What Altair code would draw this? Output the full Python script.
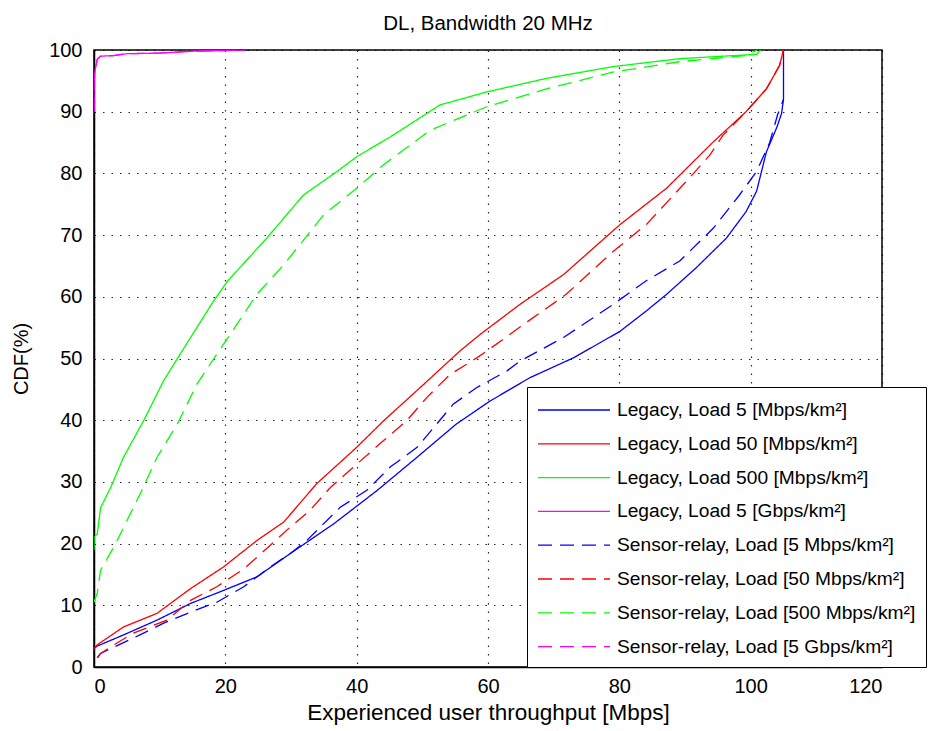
import altair as alt
import pandas as pd

# ---- data ----
labels = [
    "Legacy, Load 5 [Mbps/km²]",
    "Legacy, Load 50 [Mbps/km²]",
    "Legacy, Load 500 [Mbps/km²]",
    "Legacy, Load 5 [Gbps/km²]",
    "Sensor-relay, Load [5 Mbps/km²]",
    "Sensor-relay, Load [50 Mbps/km²]",
    "Sensor-relay, Load [500 Mbps/km²]",
    "Sensor-relay, Load [5 Gbps/km²]",
]
colors = ["#0000FF", "#FF0000", "#00FF00", "#FF00FF",
          "#0000FF", "#FF0000", "#00FF00", "#FF00FF"]
dashes = [[1, 0], [1, 0], [1, 0], [1, 0],
          [14, 8], [14, 8], [14, 8], [14, 8]]

leg5_x = [0, 0.5, 4.5, 9.6, 14.7, 19.7, 24.8, 29.9, 36.5, 43.1, 49.2, 55.2, 60.3, 66.4,
          73.0, 80.1, 84.1, 87.2, 91.7, 96.3, 99.3, 100.9, 102.4, 104.0, 104.7, 105.0, 105.0]
leg5_y = [3.0, 3.4, 5.2, 7.6, 10.3, 12.4, 14.6, 18.4, 23.2, 28.6, 34.0, 39.4, 43.1, 46.9,
          50.1, 54.4, 57.7, 60.4, 64.7, 69.5, 73.8, 77.1, 83.5, 87.5, 89.7, 92.0, 100.0]

leg50_x = [0, 0.5, 4.5, 9.6, 14.7, 19.7, 24.8, 28.9, 33.9, 40.0, 44.1, 50.2, 55.7, 58.8,
           64.9, 71.5, 80.1, 87.2, 94.3, 99.3, 102.4, 104.4, 105.0]
leg50_y = [3.0, 3.6, 6.5, 8.7, 12.7, 16.2, 20.5, 23.5, 29.7, 35.6, 39.9, 45.8, 51.2, 53.9,
           58.8, 63.6, 71.7, 77.6, 85.1, 90.0, 93.7, 97.5, 100.0]

leg500_x = [0, 0, 0.5, 1.0, 2.5, 4.5, 7.6, 10.6, 13.7, 18.2, 20.3, 26.3, 31.9, 37.0, 40.0,
            45.1, 52.7, 59.8, 68.9, 79.0, 89.2, 100.9, 101.5]
leg500_y = [19.0, 21.0, 21.6, 25.8, 29.0, 34.0, 40.0, 46.4, 51.7, 59.3, 62.5, 69.5, 76.5, 80.3, 82.7,
            85.9, 91.1, 93.2, 95.4, 97.3, 98.6, 99.3, 100.0]

leg5g_x = [0, 0, 0.2, 0.5, 1.0, 3.0, 5.0, 10.0, 15.0, 23.0]
leg5g_y = [90.0, 95.0, 97.0, 98.5, 99.0, 99.1, 99.4, 99.5, 99.8, 100.0]

sr5_x = [0.5, 1.0, 7.0, 10.6, 14.7, 18.7, 22.8, 26.8, 29.9, 32.4, 37.5, 41.5, 45.1, 49.2, 52.2,
         54.7, 58.3, 62.9, 64.9, 71.5, 79.1, 84.1, 89.2, 94.3, 98.3, 100.9, 102.9, 104.1, 105.0]
sr5_y = [1.5, 2.2, 5.2, 7.1, 8.9, 10.5, 13.0, 16.2, 18.4, 20.5, 25.9, 28.6, 32.4, 35.6, 39.4,
         42.6, 45.3, 48.0, 49.6, 53.4, 58.8, 62.6, 65.8, 71.1, 76.5, 80.3, 85.0, 89.5, 92.0]

sr50_x = [0.5, 1.0, 3.5, 6.0, 11.1, 14.7, 18.7, 22.8, 26.3, 29.9, 32.9, 36.0, 39.5, 44.1, 47.6,
          50.7, 54.2, 58.3, 59.8, 65.4, 71.9, 79.1, 84.1, 90.2, 93.8, 95.8, 99.3, 102.4, 104.4, 105.0]
sr50_y = [1.5, 2.2, 3.9, 5.5, 7.6, 10.8, 13.0, 15.9, 19.2, 22.7, 25.4, 29.1, 32.4, 36.7, 39.9,
          43.7, 47.4, 50.1, 51.2, 55.5, 60.4, 67.4, 71.7, 78.7, 83.0, 86.2, 90.0, 93.7, 97.5, 100.0]

sr500_x = [0, 0.5, 1.0, 3.3, 5.0, 7.0, 9.6, 12.7, 15.7, 18.7, 20.8, 24.8, 28.9, 35.0, 40.0, 44.1,
           51.2, 59.8, 68.9, 79.0, 89.2, 99.3, 101.0]
sr500_y = [10.5, 12.0, 15.7, 20.0, 23.7, 28.0, 34.0, 39.4, 45.9, 50.7, 54.0, 60.4, 65.2, 73.3,
           77.6, 81.4, 87.0, 90.8, 93.7, 96.4, 98.1, 99.1, 100.0]

sr5g_x = [0, 0, 0.2, 0.5, 1.0, 3.0, 5.0, 10.0, 15.0, 23.0]
sr5g_y = [90.0, 95.0, 97.0, 98.5, 99.0, 99.1, 99.4, 99.5, 99.8, 100.0]

xs = [leg5_x, leg50_x, leg500_x, leg5g_x, sr5_x, sr50_x, sr500_x, sr5g_x]
ys = [leg5_y, leg50_y, leg500_y, leg5g_y, sr5_y, sr50_y, sr500_y, sr5g_y]

x_ticks = [0, 20, 40, 60, 80, 100, 120]
y_ticks = [0, 10, 20, 30, 40, 50, 60, 70, 80, 90, 100]

rows = []
for k, (lab, xv, yv) in enumerate(zip(labels, xs, ys)):
    for i, (a, b) in enumerate(zip(xv, yv)):
        rows.append({"series": lab, "x": a, "y": b, "i": i, "k": k})
df = pd.DataFrame(rows)

FONT = "Liberation Sans"

leg = alt.Legend(title=None, orient="none", legendX=433, legendY=337, direction="vertical")

chart = alt.Chart(df).mark_line(strokeWidth=1.3, clip=True).encode(
    x=alt.X("x:Q", scale=alt.Scale(domain=[0, 120], nice=False),
            axis=alt.Axis(values=x_ticks, title="Experienced user throughput [Mbps]",
                          grid=True, format="d", titleFontSize=22.5, labelPadding=9)),
    y=alt.Y("y:Q", scale=alt.Scale(domain=[0, 100], nice=False),
            axis=alt.Axis(values=y_ticks, title="CDF(%)", grid=True, format="d",
                          titleFontSize=20, labelPadding=12)),
    color=alt.Color("series:N", scale=alt.Scale(domain=labels, range=colors), legend=leg),
    strokeDash=alt.StrokeDash("series:N", scale=alt.Scale(domain=labels, range=dashes), legend=leg),
    order="i:Q",
    detail="k:N",
).properties(
    width=788, height=617,
    title=alt.Title("DL, Bandwidth 20 MHz", font=FONT, fontSize=20.5, fontWeight="normal",
                    color="#000", offset=6),
    padding={"left": 94, "top": 50, "right": 46, "bottom": 64},
    autosize=alt.AutoSizeParams(type="none"),
).configure_view(
    stroke="#000", strokeWidth=1.5
).configure_axis(
    labelFont=FONT, titleFont=FONT, labelFontSize=20,
    labelColor="#000", titleColor="#000", titleFontWeight="normal",
    domainColor="#000", domainWidth=1.5, tickColor="#000", tickSize=0,
    gridColor="#000", gridDash=[1.5, 7], gridWidth=1.2, gridOpacity=0.85,
).configure_axisX(
    titlePadding=5
).configure_axisY(
    titlePadding=17
).configure_legend(
    labelFont=FONT, labelFontSize=19.2, labelColor="#000", labelLimit=500,
    strokeColor="#000", fillColor="#fff", padding=10,
    symbolType="M-5,0H1", symbolSize=576, symbolStrokeWidth=1.3, symbolOffset=48,
    rowPadding=9.8, labelOffset=6, cornerRadius=0,
)

chart.save("out.html", embed_options={"renderer": "svg", "actions": False})
